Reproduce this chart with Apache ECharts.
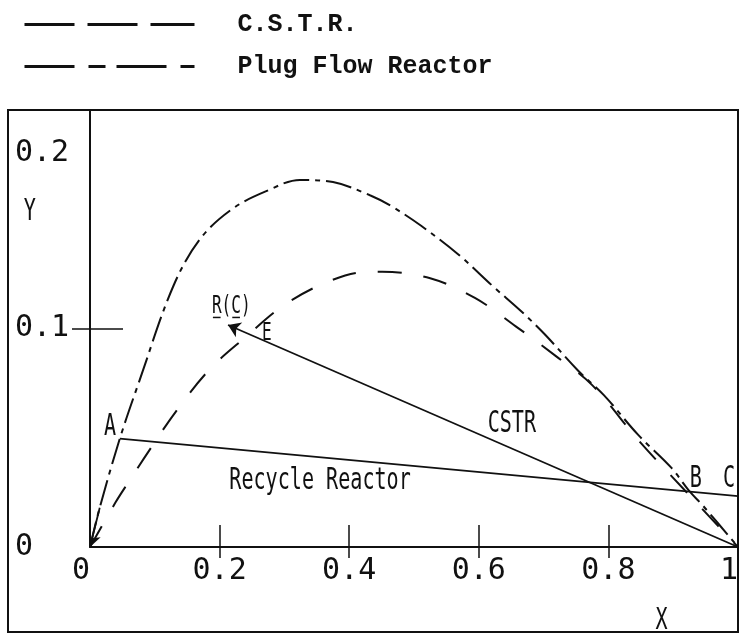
<!DOCTYPE html>
<html>
<head>
<meta charset="utf-8">
<script src="https://cdn.jsdelivr.net/npm/echarts@6/dist/echarts.min.js"></script>
<style>
html,body{margin:0;padding:0;background:#fff;}
#chart{width:742px;height:635px;}
</style>
</head>
<body>
<div id="chart"></div>
<script>
// ---- data ----
const pfrX = [0, 0.015, 0.046, 0.077, 0.128, 0.170, 0.221, 0.273, 0.324, 0.375, 0.432, 0.465, 0.511, 0.568, 0.623, 0.665, 0.701, 0.753, 0.793, 0.846, 0.897, 0.924, 0.948, 1.0];
const pfrY = [0, 0.018, 0.0496, 0.0767, 0.119, 0.141, 0.155, 0.163, 0.168, 0.167, 0.161, 0.156, 0.147, 0.134, 0.119, 0.108, 0.0976, 0.0808, 0.0695, 0.0513, 0.0363, 0.0259, 0.0182, 0];
const cstrX = [0, 0.039, 0.059, 0.091, 0.134, 0.185, 0.239, 0.301, 0.372, 0.432, 0.451, 0.525, 0.594, 0.657, 0.718, 0.775, 0.846, 0.924, 1.0];
const cstrY = [0, 0.0202, 0.0295, 0.044, 0.0626, 0.0814, 0.0958, 0.111, 0.122, 0.126, 0.126, 0.123, 0.114, 0.101, 0.0876, 0.0741, 0.049, 0.024, 0];
const recycleX = [0.046, 1.0];
const recycleY = [0.0496, 0.0233];
const cstrPathX = [1.0, 0.213];
const cstrPathY = [0, 0.1016];
const xTickValues = [0, 0.2, 0.4, 0.6, 0.8, 1];
const xTickLabels = ['0', '0.2', '0.4', '0.6', '0.8', '1'];
const yTickValues = [0, 0.1, 0.2];
const yTickLabels = ['0', '0.1', '0.2'];
const seriesNames = ['C.S.T.R.', 'Plug Flow Reactor'];

// annotation texts (anchored in data space)
const annotations = [
  {text: 'A', x: 0.031, y: 0.055, size: 30},
  {text: 'B', x: 0.935, y: 0.031, size: 30},
  {text: 'C', x: 0.986, y: 0.031, size: 30},
  {text: 'E', x: 0.273, y: 0.0977, size: 24},
  {text: 'R(C)', x: 0.218, y: 0.110, size: 24, underline: [0, 2]},
  {text: 'CSTR', x: 0.651, y: 0.0562, size: 30},
  {text: 'Recycle Reactor', x: 0.355, y: 0.030, size: 30},
  {text: 'X', x: 0.882, y: -0.034, size: 30},
  {text: 'Y', x: -0.093, y: 0.153, size: 30}
];

const zip = (xs, ys) => xs.map((x, i) => [x, ys[i]]);
const INK = '#111';
const plotFont = "'DejaVu Sans Mono', monospace";
const SX = 0.67;

const chart = echarts.init(document.getElementById('chart'), null, {renderer: 'canvas'});

const fmtX = v => { const i = xTickValues.findIndex(t => Math.abs(t - v) < 1e-9); return i >= 0 ? xTickLabels[i] : ''; };
const fmtY = v => {
  const i = yTickValues.findIndex(t => Math.abs(t - v) < 1e-9);
  if (i < 0) return '';
  return i === yTickValues.length - 1 ? '{low|' + yTickLabels[i] + '}' : '{n|' + yTickLabels[i] + '}';
};

const option = {
  animation: false,
  backgroundColor: '#fff',
  grid: {left: 90, right: 4, top: 110, bottom: 88, containLabel: false},
  legend: {
    orient: 'vertical',
    left: 18,
    top: 7,
    itemWidth: 170,
    itemHeight: 24,
    itemGap: 17,
    textStyle: {fontFamily: "'Liberation Mono', 'DejaVu Sans Mono', monospace", fontWeight: 'bold', fontSize: 25, color: '#111', padding: [0, 0, 0, 38]},
    data: [
      {name: seriesNames[0], itemStyle: {opacity: 0}, lineStyle: {type: [50, 13], width: 3, color: INK}},
      {name: seriesNames[1], itemStyle: {opacity: 0}, lineStyle: {type: [50, 14, 17, 11], width: 3, color: INK}}
    ]
  },
  xAxis: [
    {
      type: 'value', min: 0, max: 1, interval: 0.2,
      axisLine: {lineStyle: {color: INK, width: 2}},
      axisTick: {inside: true, length: 22, lineStyle: {color: INK, width: 1.5}, customValues: xTickValues.slice(1, 5)},
      axisLabel: {customValues: xTickValues, formatter: fmtX, margin: 9, color: INK, fontFamily: plotFont, fontSize: 30, alignMinLabel: 'right', alignMaxLabel: 'right'},
      splitLine: {show: false}
    },
    {
      type: 'value', min: 0, max: 1, interval: 0.2, position: 'bottom',
      axisLine: {show: false},
      axisTick: {inside: false, length: 11, lineStyle: {color: INK, width: 1.5}, customValues: xTickValues.slice(1, 5)},
      axisLabel: {show: false},
      splitLine: {show: false}
    }
  ],
  yAxis: [
    {
      type: 'value', min: 0, max: 0.2, interval: 0.1,
      axisLine: {lineStyle: {color: INK, width: 2}},
      axisTick: {inside: false, length: 18, lineStyle: {color: INK, width: 1.5}, customValues: [yTickValues[1]]},
      axisLabel: {
        customValues: yTickValues, formatter: fmtY, margin: 75, align: 'left', color: INK,
        fontFamily: plotFont, fontSize: 30,
        rich: {
          n: {fontFamily: plotFont, fontSize: 30, color: INK},
          low: {fontFamily: plotFont, fontSize: 30, color: INK, lineHeight: 116, verticalAlign: 'bottom'}
        }
      },
      splitLine: {show: false}
    },
    {
      type: 'value', min: 0, max: 0.2, interval: 0.1, position: 'left',
      axisLine: {show: false},
      axisTick: {inside: true, length: 33, lineStyle: {color: INK, width: 1.5}, customValues: [yTickValues[1]]},
      axisLabel: {show: false},
      splitLine: {show: false}
    }
  ],
  series: [
    {
      name: seriesNames[0], type: 'line', xAxisIndex: 0, yAxisIndex: 0,
      data: zip(cstrX, cstrY), smooth: 0.35, symbol: 'none', showSymbol: false,
      lineStyle: {color: INK, width: 2, type: [24, 22]}, itemStyle: {color: INK}
    },
    {
      name: seriesNames[1], type: 'line', xAxisIndex: 0, yAxisIndex: 0,
      data: zip(pfrX, pfrY), smooth: 0.35, symbol: 'none', showSymbol: false,
      lineStyle: {color: INK, width: 2, type: [26, 6, 5, 6]}, itemStyle: {color: INK}
    },
    {
      name: 'Recycle Reactor', type: 'line', xAxisIndex: 0, yAxisIndex: 0,
      data: zip(recycleX, recycleY), symbol: 'none',
      lineStyle: {color: INK, width: 1.8}
    },
    {
      name: 'CSTR path', type: 'lines', coordinateSystem: 'cartesian2d', xAxisIndex: 0, yAxisIndex: 0,
      symbol: ['none', 'arrow'], symbolSize: 12,
      lineStyle: {color: INK, width: 1.8, opacity: 1},
      data: [{coords: zip(cstrPathX, cstrPathY)}]
    },
    {
      name: 'PFR end', type: 'lines', coordinateSystem: 'cartesian2d', xAxisIndex: 0, yAxisIndex: 0,
      symbol: ['none', 'arrow'], symbolSize: 12,
      lineStyle: {color: INK, width: 1.8, opacity: 1},
      data: [{coords: [[pfrX[1], pfrY[1]], [pfrX[0], pfrY[0]]]}]
    }
  ]
};

chart.setOption(option);

// annotations and outer frame, placed through the grid's own scales
const toPx = (x, y) => chart.convertToPixel({xAxisIndex: 0, yAxisIndex: 0}, [x, y]);
const tr = toPx(1, 0.2);
const graphics = [
  {type: 'rect', shape: {x: 8, y: tr[1], width: tr[0] - 8, height: 632 - tr[1]}, style: {fill: 'none', stroke: INK, lineWidth: 2}, silent: true}
];
annotations.forEach(a => {
  const p = toPx(a.x, a.y);
  graphics.push({
    type: 'text', x: p[0], y: p[1], scaleX: SX, silent: true,
    style: {text: a.text, font: a.size + 'px ' + plotFont, fill: INK, align: 'center', verticalAlign: 'middle', textAlign: 'center', textVerticalAlign: 'middle'}
  });
  if (a.underline) {
    const adv = 0.602 * a.size * SX;
    const start = p[0] - adv * a.text.length / 2;
    a.underline.forEach(ci => {
      graphics.push({
        type: 'line', silent: true,
        shape: {x1: start + adv * ci + 1, y1: p[1] + a.size * 0.45, x2: start + adv * (ci + 1) - 1, y2: p[1] + a.size * 0.45},
        style: {stroke: INK, lineWidth: 1.5}
      });
    });
  }
});
chart.setOption({graphic: graphics});
</script>
</body>
</html>
